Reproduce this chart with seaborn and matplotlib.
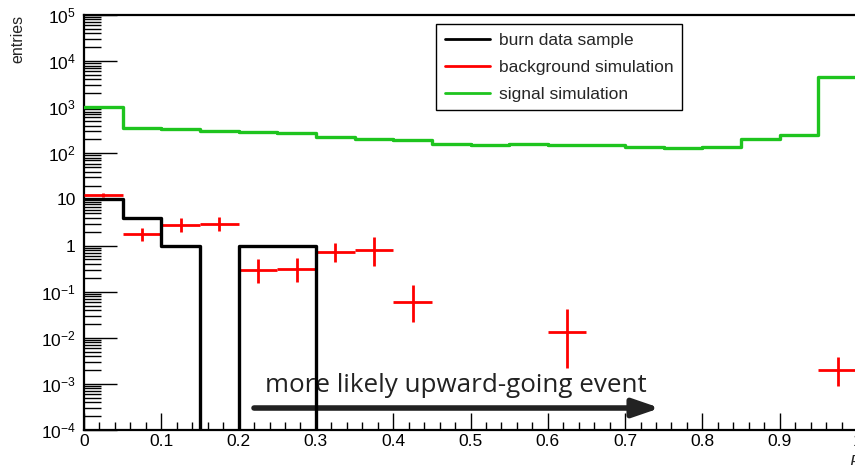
import numpy as np
import pandas as pd
import matplotlib
matplotlib.use("Agg")
import matplotlib.pyplot as plt
import seaborn as sns
from matplotlib.ticker import FixedLocator, FixedFormatter, MultipleLocator, LogLocator, NullFormatter

# ---------------- data ----------------
bin_edges = [round(0.05 * i, 2) for i in range(21)]
bin_centers = [round(e + 0.025, 3) for e in bin_edges[:-1]]

signal_sim = [1000, 349, 337, 310, 290, 272, 230, 201, 191, 159,
              154, 159, 154, 151, 139, 131, 139, 201, 254, 4500]
burn_data = [10, 4, 1, 0, 1, 1, 0, 0, 0, 0,
             0, 0, 0, 0, 0, 0, 0, 0, 0, 0]

bkg_x = [0.025, 0.075, 0.125, 0.175, 0.225, 0.275, 0.325, 0.375, 0.425, 0.625, 0.975]
bkg_val = [12.5, 1.78, 2.79, 2.98, 0.295, 0.305, 0.72, 0.81, 0.0605, 0.0133, 0.0020]
bkg_low = [11.1, 1.26, 2.0, 2.07, 0.152, 0.164, 0.43, 0.366, 0.022, 0.00224, 0.0009]
bkg_high = [14.0, 2.44, 3.9, 4.16, 0.50, 0.53, 1.15, 1.56, 0.139, 0.042, 0.0039]
bin_half_width = 0.025

y_tick_vals = [1e-4, 1e-3, 1e-2, 1e-1, 1, 10, 1e2, 1e3, 1e4, 1e5]
y_tick_labels = [r"$10^{-4}$", r"$10^{-3}$", r"$10^{-2}$", r"$10^{-1}$", "1", "10",
                 r"$10^{2}$", r"$10^{3}$", r"$10^{4}$", r"$10^{5}$"]
x_tick_vals = [0, 0.1, 0.2, 0.3, 0.4, 0.5, 0.6, 0.7, 0.8, 0.9, 1.0]
x_tick_labels = ["0", "0.1", "0.2", "0.3", "0.4", "0.5", "0.6", "0.7", "0.8", "0.9", "1"]

legend_labels = ["burn data sample", "background simulation", "signal simulation"]
annotation_text = "more likely upward-going event"

# ---------------- style ----------------
sns.set_style("ticks")
plt.rcParams["font.family"] = ["Liberation Sans", "DejaVu Sans"]
plt.rcParams["mathtext.fontset"] = "custom"
plt.rcParams["mathtext.rm"] = "Liberation Sans"
plt.rcParams["mathtext.it"] = "Liberation Sans:italic"

W, H = 855, 465
fig = plt.figure(figsize=(W / 100, H / 100), dpi=100)
left, right, top, bottom = 84, 857, 15, 430
ax = fig.add_axes([left / W, 1 - bottom / H, (right - left) / W, (bottom - top) / H])

df_sig = pd.DataFrame({"x": bin_centers, "w": signal_sim})
df_dat = pd.DataFrame({"x": bin_centers, "w": burn_data})

ax.set_yscale("log", nonpositive="clip")

# background simulation (red crosses)
bx = np.array(bkg_x)
bv = np.array(bkg_val)
yerr = np.vstack([bv - np.array(bkg_low), np.array(bkg_high) - bv])
ax.errorbar(bx, bv, xerr=bin_half_width, yerr=yerr, fmt="none",
            ecolor="#ff0000", elinewidth=2.0, capsize=0, zorder=3)

# burn data sample (black step)
sns.histplot(data=df_dat, x="x", weights="w", bins=bin_edges, element="step",
             fill=False, color="black", linewidth=2.4, ax=ax, zorder=4)
# signal simulation (green step)
sns.histplot(data=df_sig, x="x", weights="w", bins=bin_edges, element="step",
             fill=False, color="#1ec41e", linewidth=2.4, ax=ax, zorder=4)

ax.set_yscale("log", nonpositive="clip")
ax.set_xlim(0, 1)
ax.set_ylim(1e-4, 1e5)

# ticks
ax.yaxis.set_major_locator(FixedLocator(y_tick_vals))
ax.yaxis.set_major_formatter(FixedFormatter(y_tick_labels))
ax.yaxis.set_minor_locator(LogLocator(base=10, subs=np.arange(2, 10), numticks=30))
ax.yaxis.set_minor_formatter(NullFormatter())
ax.xaxis.set_major_locator(FixedLocator(x_tick_vals))
ax.xaxis.set_major_formatter(FixedFormatter(x_tick_labels))
ax.xaxis.set_minor_locator(MultipleLocator(0.02))

ax.tick_params(axis="y", which="major", direction="in", length=24, width=1.0,
               labelsize=12.5, pad=6, colors="black")
ax.tick_params(axis="y", which="minor", direction="in", length=12, width=1.0, colors="black")
ax.tick_params(axis="x", which="major", direction="in", length=12, width=1.0,
               labelsize=12.5, pad=3, colors="black")
ax.tick_params(axis="x", which="minor", direction="in", length=6, width=1.0, colors="black")

for s in ["left", "bottom", "top"]:
    ax.spines[s].set_visible(True)
    ax.spines[s].set_color("black")
    ax.spines[s].set_linewidth(1.6)
ax.spines["right"].set_visible(False)
ax.set_xlabel("")
ax.set_ylabel("")

fig.text(18 / W, 1 - 15 / H, "entries", rotation=90, ha="center", va="top",
         fontsize=11.5)
fig.text(849 / W, 1 - 470 / H, "P", style="italic", ha="left", va="bottom",
         fontsize=12.5)

# legend
handles = [
    plt.Line2D([], [], color="black", lw=2.0),
    plt.Line2D([], [], color="#ff0000", lw=2.0),
    plt.Line2D([], [], color="#1ec41e", lw=2.0),
]
leg = ax.legend(handles, legend_labels, loc="upper left",
                bbox_to_anchor=((436 - left) / (right - left), (bottom - 24) / (bottom - top)),
                frameon=True, fancybox=False, framealpha=1, edgecolor="black",
                fontsize=12.5, handlelength=2.6, handletextpad=0.5,
                labelspacing=0.68, borderpad=0.5, borderaxespad=0)
leg.get_frame().set_linewidth(1.0)
leg.set_zorder(10)

# annotation text and arrow
txt = ax.text((265 - left) / (right - left), 10 ** (5 - (392 - 15) / 46.11),
              annotation_text, fontsize=16, family=["Open Sans", "DejaVu Sans"],
              color="#222222", ha="left", va="baseline", zorder=2)
fig.canvas.draw()
ext = txt.get_window_extent()
target = 647 - 265
txt.set_fontsize(16 * target / ext.width)

y_arrow = 10 ** (5 - (408 - 15) / 46.11)
ax.annotate("", xy=((660 - left) / (right - left), y_arrow),
            xytext=((254 - left) / (right - left), y_arrow),
            arrowprops=dict(arrowstyle="-|>,head_length=1.6,head_width=0.55",
                            color="#222222", lw=4, shrinkA=0, shrinkB=0),
            zorder=2)

fig.savefig("out.png", dpi=100)
